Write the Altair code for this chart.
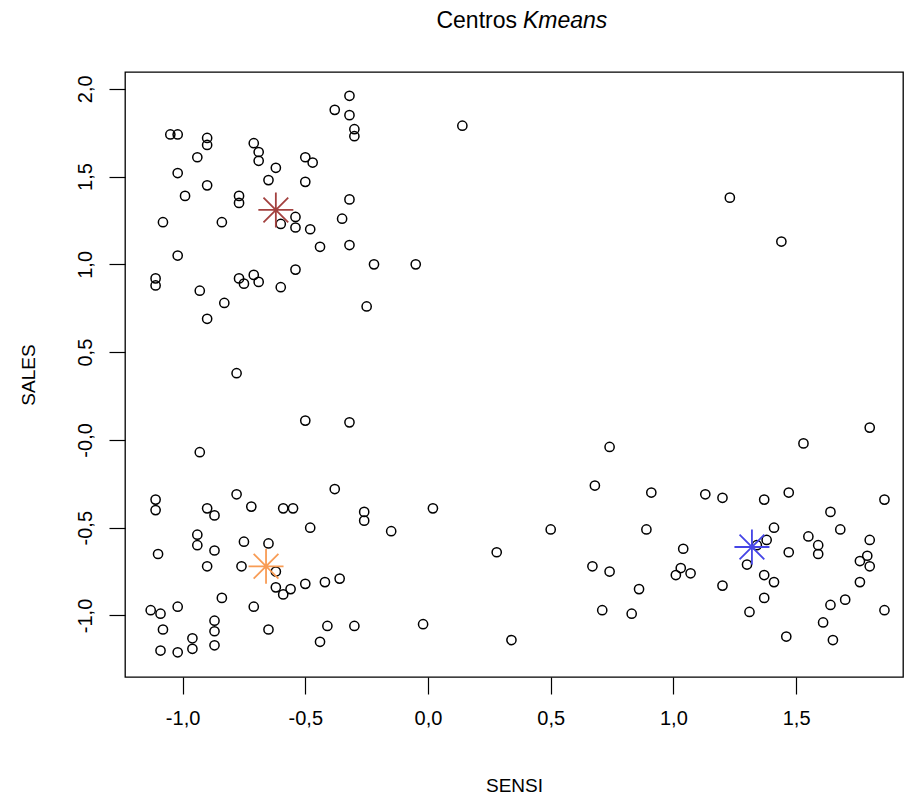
import altair as alt
import pandas as pd

# Observations (SENSI, SALES)
sensi = [-0.32, -0.38, -0.32, -0.30, -0.30, -1.05, -1.02, -0.90, -0.90, -0.71, -0.69, -0.69, -0.94, -0.62,
         -0.50, -0.47, -1.02, -0.65, -0.50, -0.90, -0.99, -0.77, -0.77, -0.32, -1.08, -0.84, -0.54, -0.60,
         -0.54, -0.48, -0.35, -0.44, -0.32, -1.02, -0.22, -0.05, -1.11, -1.11, -0.77, -0.75, -0.71, -0.69,
         -0.54, -0.93, -0.60, -0.83, -0.25, -0.90,
         0.14, 1.23, 1.44,
         -0.78, -0.50, -0.32, -0.93,
         -1.11, -1.11, -0.78, -0.38, -0.90, -0.87, -0.72, -0.59, -0.55, -0.26, -0.26, 0.02, -0.48, -0.15,
         -0.94, -0.94, -0.75, -0.65, -1.10, -0.87, -0.90, -0.76, -0.62, -0.62, -0.59, -0.56, -0.50, -0.42,
         -0.36, -0.84, -1.13, -1.09, -1.02, -0.71, -0.87, -0.87, -1.08, -0.96, -0.96, -1.09, -1.02, -0.87,
         -0.65, -0.44, -0.41, -0.30, -0.02,
         0.28, 0.34, 0.50, 0.68, 0.91, 0.89, 0.67, 0.74, 0.86, 0.71, 0.83, 0.74,
         1.80, 1.53, 1.13, 1.20, 1.37, 1.47, 1.86, 1.64, 1.68, 1.41, 1.55, 1.59, 1.59, 1.38, 1.34, 1.47,
         1.80, 1.79, 1.76, 1.80, 1.04, 1.03, 1.01, 1.07, 1.30, 1.37, 1.41, 1.20, 1.76, 1.37, 1.70, 1.64,
         1.86, 1.31, 1.61, 1.46, 1.65]
sales = [1.96, 1.88, 1.85, 1.77, 1.73, 1.74, 1.74, 1.72, 1.68, 1.69, 1.64, 1.59, 1.61, 1.55,
         1.61, 1.58, 1.52, 1.48, 1.47, 1.45, 1.39, 1.39, 1.35, 1.37, 1.24, 1.24, 1.27, 1.23,
         1.21, 1.20, 1.26, 1.10, 1.11, 1.05, 1.00, 1.00, 0.92, 0.88, 0.92, 0.89, 0.94, 0.90,
         0.97, 0.85, 0.87, 0.78, 0.76, 0.69,
         1.79, 1.38, 1.13,
         0.38, 0.11, 0.10, -0.07,
         -0.34, -0.40, -0.31, -0.28, -0.39, -0.43, -0.38, -0.39, -0.39, -0.41, -0.46, -0.39, -0.50, -0.52,
         -0.54, -0.60, -0.58, -0.59, -0.65, -0.63, -0.72, -0.72, -0.75, -0.84, -0.88, -0.85, -0.82, -0.81,
         -0.79, -0.90, -0.97, -0.99, -0.95, -0.95, -1.03, -1.09, -1.08, -1.13, -1.19, -1.20, -1.21, -1.17,
         -1.08, -1.15, -1.06, -1.06, -1.05,
         -0.64, -1.14, -0.51, -0.26, -0.30, -0.51, -0.72, -0.75, -0.85, -0.97, -0.99, -0.04,
         0.07, -0.02, -0.31, -0.33, -0.34, -0.30, -0.34, -0.41, -0.51, -0.50, -0.55, -0.60, -0.65, -0.57, -0.60, -0.64,
         -0.57, -0.66, -0.69, -0.72, -0.62, -0.73, -0.77, -0.76, -0.71, -0.77, -0.81, -0.83, -0.81, -0.90, -0.91, -0.94,
         -0.97, -0.98, -1.04, -1.12, -1.14]

# K-means centres
center_names = ["c1", "c2", "c3"]
center_sensi = [-0.62, -0.66, 1.32]
center_sales = [1.31, -0.72, -0.61]
center_colors = ["#A3413F", "#F89C55", "#4545E6"]

x_ticks = [-1.0, -0.5, 0.0, 0.5, 1.0, 1.5]
y_ticks = [-1.0, -0.5, 0.0, 0.5, 1.0, 1.5, 2.0]

pts = pd.DataFrame({"SENSI": sensi, "SALES": sales})
ctr = pd.DataFrame({"SENSI": center_sensi, "SALES": center_sales, "cl": center_names})

FONT = "Liberation Sans"
xdom = [-1.2347, 1.9356]
ydom = [-1.3506, 2.0957]

xscale = alt.Scale(domain=xdom, nice=False, zero=False)
yscale = alt.Scale(domain=ydom, nice=False, zero=False)

xaxis = alt.Axis(values=x_ticks, title="SENSI", grid=False, domain=False,
                 tickSize=17, tickColor="black", tickWidth=1.2,
                 labelExpr="(datum.value < 0 ? '-' : '') + replace(format(abs(datum.value), '.1f'), '.', ',')",
                 labelFont=FONT, labelFontSize=20, labelColor="black", labelPadding=14,
                 titleFont=FONT, titleFontSize=19, titleFontWeight="normal", titleColor="black",
                 titleY=108, titleBaseline="middle")
yaxis = alt.Axis(values=y_ticks, title="SALES", grid=False, domain=False,
                 tickSize=16, tickColor="black", tickWidth=1.2,
                 labelExpr="(datum.value <= 0 ? '-' : '') + replace(format(abs(datum.value), '.1f'), '.', ',')",
                 labelAngle=270, labelAlign="center", labelBaseline="bottom",
                 labelFont=FONT, labelFontSize=20, labelColor="black", labelPadding=14,
                 titleFont=FONT, titleFontSize=19, titleFontWeight="normal", titleColor="black",
                 titleAngle=270, titleX=-97, titleBaseline="middle")

points = alt.Chart(pts).mark_point(shape="circle", filled=False, size=85, strokeWidth=1.5,
                                   color="black", opacity=1).encode(
    x=alt.X("SENSI:Q", scale=xscale, axis=xaxis),
    y=alt.Y("SALES:Q", scale=yscale, axis=yaxis),
)

star_path = "M-1,0L1,0M0,-1L0,1M-0.707,-0.707L0.707,0.707M-0.707,0.707L0.707,-0.707"
stars = alt.Chart(ctr).mark_point(shape=star_path, filled=False, size=1225, strokeWidth=1.8,
                                  opacity=1).encode(
    x=alt.X("SENSI:Q", scale=xscale),
    y=alt.Y("SALES:Q", scale=yscale),
    color=alt.Color("cl:N", scale=alt.Scale(domain=center_names, range=center_colors), legend=None),
)

title_df = pd.DataFrame({"a": [0]})
t1 = alt.Chart(title_df).mark_text(text="Centros", font=FONT, fontSize=23, align="right",
                                   baseline="middle", color="black").encode(
    x=alt.value(392), y=alt.value(-51))
t2 = alt.Chart(title_df).mark_text(text="Kmeans", font=FONT, fontSize=23, fontStyle="italic",
                                   align="left", baseline="middle", color="black").encode(
    x=alt.value(398), y=alt.value(-51))

chart = alt.layer(points, stars, t1, t2).properties(
    width=778, height=605,
    autosize=alt.AutoSizeParams(type="none"),
    padding={"left": 125, "top": 72, "right": 1, "bottom": 121},
    background="white",
).configure_view(stroke="black", strokeWidth=1.3)

chart.save("out.html", embed_options={"renderer": "svg", "actions": False})
